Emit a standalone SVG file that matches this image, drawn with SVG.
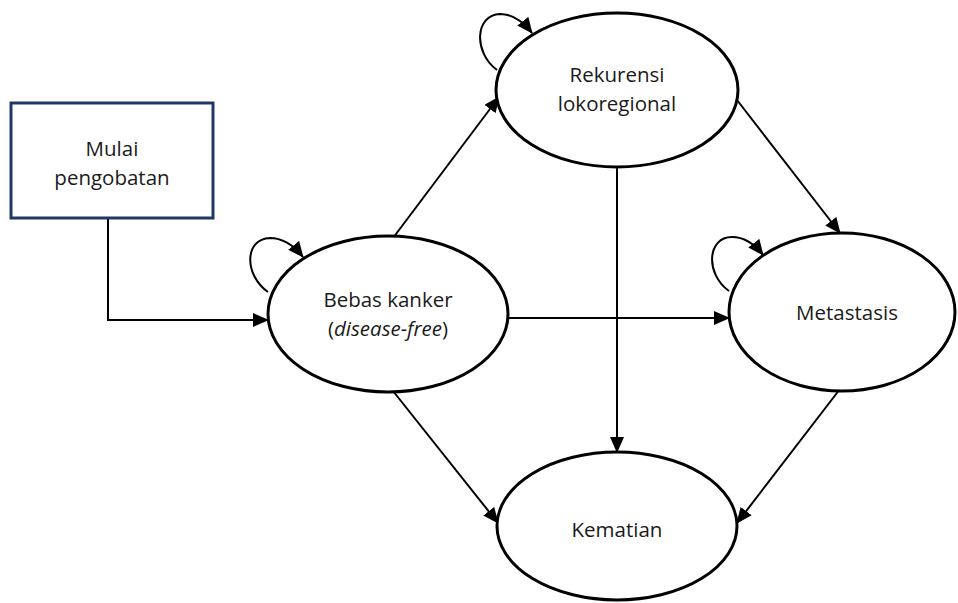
<svg xmlns="http://www.w3.org/2000/svg" width="958" height="603" viewBox="0 0 958 603">
<style>
.node{fill:#fff;stroke:#000;stroke-width:3}
.box{fill:#fff;stroke:#1f3864;stroke-width:3}
.lbl{font-family:"Open Sans","Liberation Sans",sans-serif;font-size:20.5px;fill:#1a1a1a;text-anchor:middle}
.edge{fill:none;stroke:#000;stroke-width:2;marker-end:url(#ah)}
</style>
<defs>
<marker id="ah" markerUnits="userSpaceOnUse" markerWidth="16" markerHeight="14" refX="15" refY="7" orient="auto">
<path d="M0,0 L16,7 L0,14 Z" fill="#000"/>
</marker>
</defs>
<rect width="958" height="603" fill="#fff"/>
<g id="connectors">
<path class="edge" d="M108,218 V320 H268"/>
<path class="edge" d="M393,238 L499,97"/>
<path class="edge" d="M508,318 L729,318"/>
<path class="edge" d="M617,167 L617,452"/>
<path class="edge" d="M737,100 L840,233"/>
<path class="edge" d="M393,391 L498,523"/>
<path class="edge" d="M840,389 L737,523"/>
<path class="edge" d="M268,292 C244,275 244,239 270,238 C284,238 295,247 303,257"/>
<path class="edge" d="M497,70 C473,52 475,15 500,14 C514,14 525,24 532,33"/>
<path class="edge" d="M729,291 C705,274 707,237 732,237 C746,237 756,246 763,255"/>
</g>
<g id="mulai">
<rect class="box" x="11" y="103" width="202" height="115"/>
<text class="lbl" x="112" y="156">Mulai</text>
<text class="lbl" x="112" y="185">pengobatan</text>
</g>
<g id="bebas">
<ellipse class="node" cx="388" cy="314" rx="120" ry="78"/>
<text class="lbl" x="388" y="307">Bebas kanker</text>
<text class="lbl" x="388" y="336">(<tspan font-style="italic">disease-free</tspan>)</text>
</g>
<g id="rekurensi">
<ellipse class="node" cx="617" cy="90" rx="121" ry="77"/>
<text class="lbl" x="617" y="82">Rekurensi</text>
<text class="lbl" x="617" y="111">lokoregional</text>
</g>
<g id="metastasis">
<ellipse class="node" cx="842" cy="312" rx="113" ry="79"/>
<text class="lbl" x="847" y="320">Metastasis</text>
</g>
<g id="kematian">
<ellipse class="node" cx="617" cy="526" rx="120" ry="74"/>
<text class="lbl" x="617" y="537">Kematian</text>
</g>
</svg>
